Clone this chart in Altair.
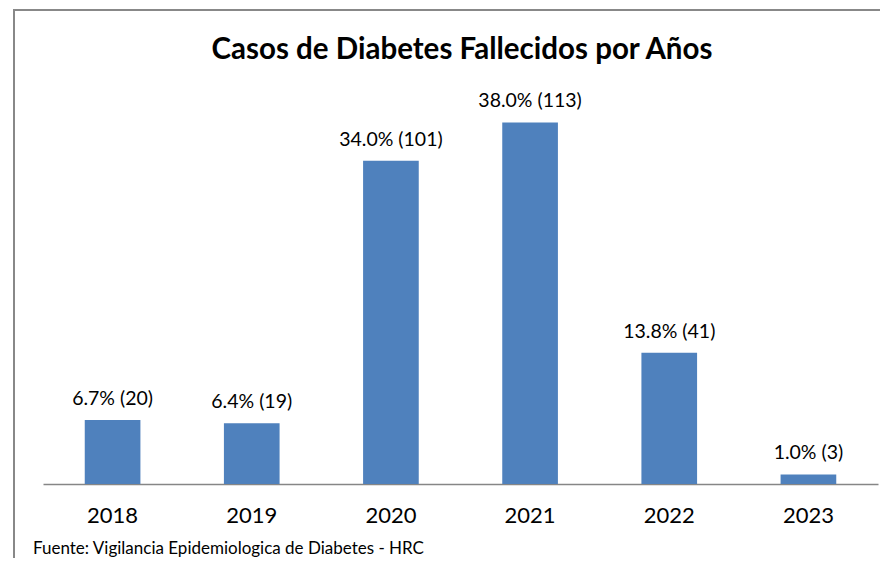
import altair as alt
import pandas as pd

years = ["2018", "2019", "2020", "2021", "2022", "2023"]
counts = [20, 19, 101, 113, 41, 3]
percents = [6.7, 6.4, 34.0, 38.0, 13.8, 1.0]
title_text = "Casos de Diabetes Fallecidos por Años"
source_text = "Fuente: Vigilancia Epidemiologica de Diabetes - HRC"

df = pd.DataFrame({"year": years, "count": counts, "pct": percents})
df["label"] = [f"{p:.1f}% ({c})" for p, c in zip(percents, counts)]

FONT = "Lato"

base = alt.Chart(df).encode(
    x=alt.X("year:N", sort=years, title=None,
            scale=alt.Scale(paddingInner=0.6, paddingOuter=0.3),
            axis=alt.Axis(labelAngle=0, ticks=False, labelFontSize=22, labelFont=FONT,
                          labelColor="#000000", labelPadding=21,
                          domainColor="#868686", domainWidth=1.5)),
    y=alt.Y("count:Q", title=None, scale=alt.Scale(domain=[0, 120], nice=False),
            axis=None),
)

bars = base.mark_bar(color="#4F81BD")
text = base.mark_text(baseline="bottom", dy=-11, fontSize=19.5, font=FONT, color="#000000").encode(
    text="label:N")

top_line = alt.Chart(pd.DataFrame({"k": [0]})).mark_rule(stroke="#888888", strokeWidth=2).encode(
    x=alt.value(-30), x2=alt.value(900), y=alt.value(-90))
left_line = alt.Chart(pd.DataFrame({"k": [0]})).mark_rule(stroke="#888888", strokeWidth=2).encode(
    x=alt.value(-29), y=alt.value(-91), y2=alt.value(600))

title = alt.Chart(pd.DataFrame({"t": [title_text]})).mark_text(
    align="center", baseline="middle", fontSize=29.5, fontWeight="bold", font=FONT, color="#000000").encode(
    x=alt.value(419), y=alt.value(-50), text="t:N")

footer = alt.Chart(pd.DataFrame({"t": [source_text]})).mark_text(
    align="left", baseline="middle", fontSize=17, font=FONT, color="#000000").encode(
    x=alt.value(-10), y=alt.value(449), text="t:N")

chart = alt.layer(top_line, left_line, bars, text, title, footer).properties(
    width=835, height=384,
    autosize=alt.AutoSizeParams(type="none"),
    padding={"left": 35, "top": 92, "right": 2, "bottom": 74},
).configure_view(stroke=None)

chart.save("out.html", embed_options={"renderer": "svg", "actions": False})
